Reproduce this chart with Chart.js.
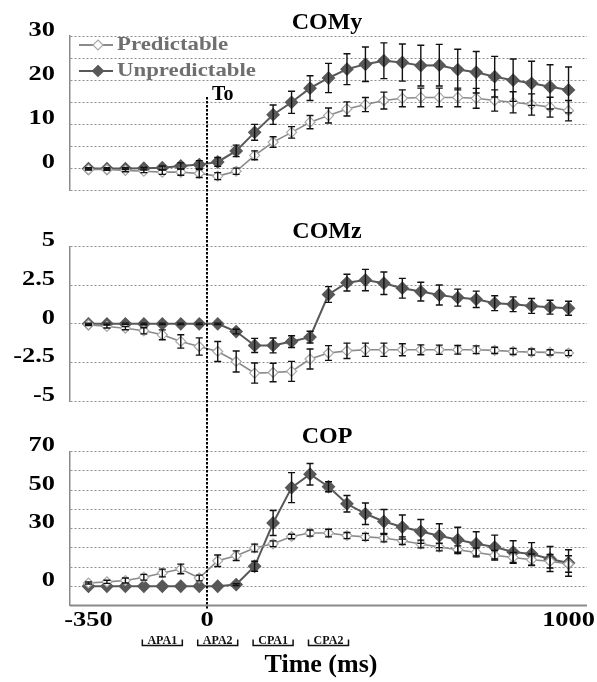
<!DOCTYPE html>
<html lang="en">
<head>
  <meta charset="UTF-8" />
  <title>COMy / COMz / COP</title>
  <script src="https://cdn.jsdelivr.net/npm/chart.js"></script>
  <style>
    body {
      margin: 0;
      background: #fff;
    }
    .wrap {
      position: relative;
      width: 597px;
      height: 682px;
    }
    .wrap canvas {
      position: absolute;
      left: 0;
    }
  </style>
</head>
<body>
  <div class="wrap">
    <canvas id="comy" width="597" height="200" style="top:0"></canvas>
    <canvas id="comz" width="597" height="210" style="top:200px"></canvas>
    <canvas id="cop" width="597" height="272" style="top:410px"></canvas>
  </div>

  <script>
    // 27 samples, first labelled -350 ms, last 1000 ms
    const xTickAt = [0, 6.42, 26];
    const xTickText = ['-350', '0', '1000'];
    const onsetAt = 6.42;
    const phaseNames = ['APA1', 'APA2', 'CPA1', 'CPA2'];
    const phaseAt = [4, 7, 10, 13];

    // COMy
    const comyPred = [-0.2, -0.2, -0.4, -0.6, -0.8, -0.8, -1.1, -1.7, -0.6, 3.0, 6.0, 8.2, 10.5, 12.0, 13.5, 14.5, 15.4, 15.9, 16.1, 16.1, 16.1, 15.9, 15.4, 15.0, 14.5, 13.9, 13.1];
    const comyPredErr = [0.1, 0.2, 0.3, 0.3, 0.5, 0.7, 0.9, 0.8, 0.7, 1.0, 1.2, 1.3, 1.5, 1.7, 1.6, 1.6, 1.9, 1.9, 2.1, 2.1, 2.1, 2.25, 2.4, 2.4, 2.4, 2.25, 2.3];
    const comyUnpred = [0, 0, 0, 0.1, 0.2, 0.6, 0.9, 1.5, 4.0, 8.2, 12.2, 15.0, 18.2, 20.5, 22.5, 23.6, 24.4, 24.0, 23.3, 23.4, 22.4, 21.8, 20.8, 20.0, 19.3, 18.5, 17.8];
    const comyUnpredErr = [0.2, 0.2, 0.2, 0.2, 0.4, 0.7, 0.9, 1.0, 1.3, 1.8, 2.2, 2.5, 2.8, 3.3, 3.5, 3.9, 4.05, 4.2, 4.6, 4.7, 4.6, 4.7, 4.6, 4.8, 5.0, 5.0, 5.2];
    const comyTicks = [0, 10, 20, 30];

    // COMz
    const comzPred = [-0.06, -0.17, -0.28, -0.45, -0.71, -1.14, -1.47, -1.79, -2.44, -3.19, -3.15, -3.08, -2.28, -1.89, -1.75, -1.68, -1.68, -1.68, -1.68, -1.68, -1.68, -1.68, -1.72, -1.79, -1.83, -1.85, -1.89];
    const comzPredErr = [0.05, 0.1, 0.1, 0.2, 0.32, 0.43, 0.56, 0.65, 0.68, 0.65, 0.6, 0.65, 0.65, 0.48, 0.5, 0.43, 0.43, 0.39, 0.32, 0.3, 0.28, 0.25, 0.2, 0.2, 0.2, 0.17, 0.17];
    const comzUnpred = [0, 0, 0, 0, 0, 0, 0, 0, -0.5, -1.4, -1.4, -1.15, -0.86, 1.9, 2.67, 2.84, 2.63, 2.31, 2.09, 1.87, 1.70, 1.59, 1.34, 1.27, 1.16, 1.08, 1.01];
    const comzUnpredErr = [0.05, 0.05, 0.05, 0.05, 0.05, 0.05, 0.05, 0.05, 0.15, 0.46, 0.48, 0.38, 0.38, 0.51, 0.54, 0.69, 0.73, 0.64, 0.61, 0.65, 0.55, 0.53, 0.48, 0.48, 0.48, 0.45, 0.45];
    const comzTicks = [5, 2.5, 0, -2.5, -5];

    // COP
    const copPred = [1.7, 2.3, 3.0, 4.7, 6.9, 9.0, 4.3, 13.3, 15.9, 19.9, 22.1, 25.9, 27.7, 27.7, 26.4, 25.7, 25.1, 23.7, 22.0, 20.4, 19.0, 17.6, 16.1, 15.0, 13.8, 13.0, 11.6];
    const copPredErr = [0.5, 0.8, 1.3, 1.5, 2.0, 2.5, 1.5, 3.0, 2.5, 2.0, 1.5, 1.2, 1.6, 2.0, 1.6, 1.8, 2.0, 2.0, 2.0, 2.0, 2.0, 2.3, 2.5, 2.6, 3.0, 3.5, 4.3];
    const copUnpred = [0, 0, 0, 0, 0, 0, 0, 0, 0.9, 10.4, 32.9, 51.3, 58.3, 51.8, 42.9, 37.7, 33.7, 30.8, 28.5, 26.3, 24.2, 22.1, 20.4, 17.8, 16.8, 14.2, 12.1];
    const copUnpredErr = [0, 0, 0, 0, 0, 0, 0, 0, 0.5, 2.6, 6.5, 7.8, 5.6, 2.6, 4.3, 5.6, 6.2, 6.3, 6.2, 6.2, 6.5, 6.3, 6.2, 5.9, 5.9, 6.5, 6.9];
    const copTicks = [70, 50, 30, 0];

    const SERIF = '"Liberation Serif", "DejaVu Serif", serif';
    const PRED_LINE = '#8a8a8a';
    const PRED_MARK = '#a8a8a8';
    const UNPRED = '#585858';

    function drawText(ctx, text, x, y, opts) {
      ctx.save();
      ctx.font = opts.font;
      ctx.fillStyle = opts.color || '#000';
      ctx.textAlign = opts.align || 'left';
      ctx.textBaseline = opts.baseline || 'middle';
      ctx.translate(x, y);
      ctx.scale(opts.sx || 1, 1);
      ctx.fillText(text, 0, 0);
      ctx.restore();
    }

    function diamond(ctx, x, y, r, fill, stroke) {
      ctx.beginPath();
      ctx.moveTo(x, y - r);
      ctx.lineTo(x + r, y);
      ctx.lineTo(x, y + r);
      ctx.lineTo(x - r, y);
      ctx.closePath();
      ctx.fillStyle = fill;
      ctx.fill();
      ctx.strokeStyle = stroke;
      ctx.lineWidth = 1.2;
      ctx.stroke();
    }

    const decor = {
      id: 'decor',
      afterDatasetsDraw(chart, args, o) {
        const ctx = chart.ctx;
        const xs = chart.scales.x, ys = chart.scales.y;
        ctx.save();
        ctx.strokeStyle = '#111';
        ctx.lineWidth = 1.4;
        chart.data.datasets.forEach(ds => {
          ds.data.forEach((p, i) => {
            const e = ds.err[i];
            if (!e) return;
            const px = xs.getPixelForValue(p.x);
            const top = ys.getPixelForValue(p.y + e);
            const bot = ys.getPixelForValue(p.y - e);
            ctx.beginPath();
            ctx.moveTo(px, top); ctx.lineTo(px, bot);
            ctx.moveTo(px - 3.5, top); ctx.lineTo(px + 3.5, top);
            ctx.moveTo(px - 3.5, bot); ctx.lineTo(px + 3.5, bot);
            ctx.stroke();
          });
        });
        ctx.restore();
      },
      afterDraw(chart, args, o) {
        const ctx = chart.ctx;
        const xs = chart.scales.x, ys = chart.scales.y;
        const area = chart.chartArea;
        const tickFont = 'bold 22px ' + SERIF;

        // y tick labels (sit a little above their grid line)
        o.ticks.forEach(v => {
          drawText(ctx, String(v), 55, ys.getPixelForValue(v) - 6,
            { font: tickFont, align: 'right', sx: 1.2 });
        });

        // panel title
        drawText(ctx, o.title, 327, o.titleY,
          { font: 'bold 24px ' + SERIF, align: 'center', baseline: 'alphabetic' });

        // onset line
        const ox = xs.getPixelForValue(onsetAt);
        ctx.save();
        ctx.strokeStyle = '#000';
        ctx.lineWidth = 2;
        ctx.setLineDash([2.5, 1.5]);
        ctx.beginPath();
        ctx.moveTo(ox, o.onsetFrom);
        ctx.lineTo(ox, o.onsetTo);
        ctx.stroke();
        ctx.restore();

        if (o.legend) {
          drawText(ctx, 'To', ox + 5, 100, { font: 'bold 20px ' + SERIF, baseline: 'alphabetic' });
          const rows = [
            { label: 'Predictable', y: 45, line: PRED_LINE, fill: '#fff', stroke: PRED_MARK, r: 5 },
            { label: 'Unpredictable', y: 71, line: UNPRED, fill: UNPRED, stroke: UNPRED, r: 5.5 }
          ];
          rows.forEach(r => {
            ctx.save();
            ctx.strokeStyle = r.line;
            ctx.lineWidth = 2;
            ctx.beginPath();
            ctx.moveTo(79, r.y); ctx.lineTo(113, r.y);
            ctx.stroke();
            diamond(ctx, 98, r.y, r.r, r.fill, r.stroke);
            ctx.restore();
            drawText(ctx, r.label, 117, r.y, { font: 'bold 19px ' + SERIF, color: '#6f6f6f', sx: 1.2 });
          });
        }

        if (o.xAxis) {
          ctx.save();
          ctx.strokeStyle = '#8a8a8a';
          ctx.lineWidth = 2;
          ctx.beginPath();
          ctx.moveTo(area.left, area.bottom); ctx.lineTo(area.right, area.bottom);
          ctx.stroke();
          ctx.restore();

          xTickAt.forEach((v, i) => {
            drawText(ctx, xTickText[i], xs.getPixelForValue(v), area.bottom + 15,
              { font: tickFont, align: 'center', sx: 1.2 });
          });

          const by = area.bottom + 40;
          ctx.save();
          ctx.strokeStyle = '#111';
          ctx.lineWidth = 1.5;
          phaseAt.forEach((v, i) => {
            const cx = xs.getPixelForValue(v);
            ctx.beginPath();
            ctx.moveTo(cx - 20, by - 6); ctx.lineTo(cx - 20, by);
            ctx.lineTo(cx + 20, by); ctx.lineTo(cx + 20, by - 6);
            ctx.stroke();
            drawText(ctx, phaseNames[i], cx, by - 2,
              { font: 'bold 12px ' + SERIF, align: 'center', baseline: 'alphabetic', color: '#111' });
          });
          ctx.restore();

          drawText(ctx, 'Time (ms)', 321, area.bottom + 66,
            { font: 'bold 26px ' + SERIF, align: 'center', baseline: 'alphabetic' });
        }
      }
    };

    function points(vals) {
      return vals.map((y, i) => ({ x: i, y }));
    }

    function makePanel(id, p) {
      return new Chart(document.getElementById(id), {
        type: 'line',
        data: {
          datasets: [
            {
              label: 'Predictable',
              data: points(p.pred),
              err: p.predErr,
              borderColor: PRED_LINE,
              borderWidth: 1.6,
              pointStyle: 'rectRot',
              pointRadius: 5,
              pointBackgroundColor: '#fff',
              pointBorderColor: PRED_MARK,
              pointBorderWidth: 1.2,
              tension: 0
            },
            {
              label: 'Unpredictable',
              data: points(p.unpred),
              err: p.unpredErr,
              borderColor: UNPRED,
              borderWidth: 2,
              pointStyle: 'rectRot',
              pointRadius: 5.5,
              pointBackgroundColor: UNPRED,
              pointBorderColor: UNPRED,
              tension: 0
            }
          ]
        },
        options: {
          responsive: false,
          animation: false,
          layout: { padding: { top: p.padTop, bottom: p.padBottom, left: 0, right: 10 } },
          scales: {
            x: { type: 'linear', min: -1, max: 27, display: false },
            y: {
              min: p.min,
              max: p.max,
              afterFit: s => { s.width = 70; },
              ticks: { stepSize: p.step, display: false },
              grid: { color: '#8f8f8f', lineWidth: 1, drawTicks: false },
              border: { display: true, color: '#8a8a8a', width: 1.5, dash: [2, 2] }
            }
          },
          plugins: {
            legend: { display: false },
            tooltip: { enabled: false },
            decor: p.decor
          }
        },
        plugins: [decor]
      });
    }

    makePanel('comy', {
      pred: comyPred, predErr: comyPredErr, unpred: comyUnpred, unpredErr: comyUnpredErr,
      min: -5, max: 30, step: 5, padTop: 36, padBottom: 9.3,
      decor: { ticks: comyTicks, title: 'COMy', titleY: 29, onsetFrom: 97, onsetTo: 200, legend: true }
    });

    makePanel('comz', {
      pred: comzPred, predErr: comzPredErr, unpred: comzUnpred, unpredErr: comzUnpredErr,
      min: -5, max: 5, step: 2.5, padTop: 46.7, padBottom: 9,
      decor: { ticks: comzTicks, title: 'COMz', titleY: 38, onsetFrom: 0, onsetTo: 210 }
    });

    makePanel('cop', {
      pred: copPred, predErr: copPredErr, unpred: copUnpred, unpredErr: copUnpredErr,
      min: -10, max: 70, step: 10, padTop: 41.7, padBottom: 76.5,
      decor: { ticks: copTicks, title: 'COP', titleY: 33, onsetFrom: 0, onsetTo: 200, xAxis: true }
    });
  </script>
</body>
</html>
